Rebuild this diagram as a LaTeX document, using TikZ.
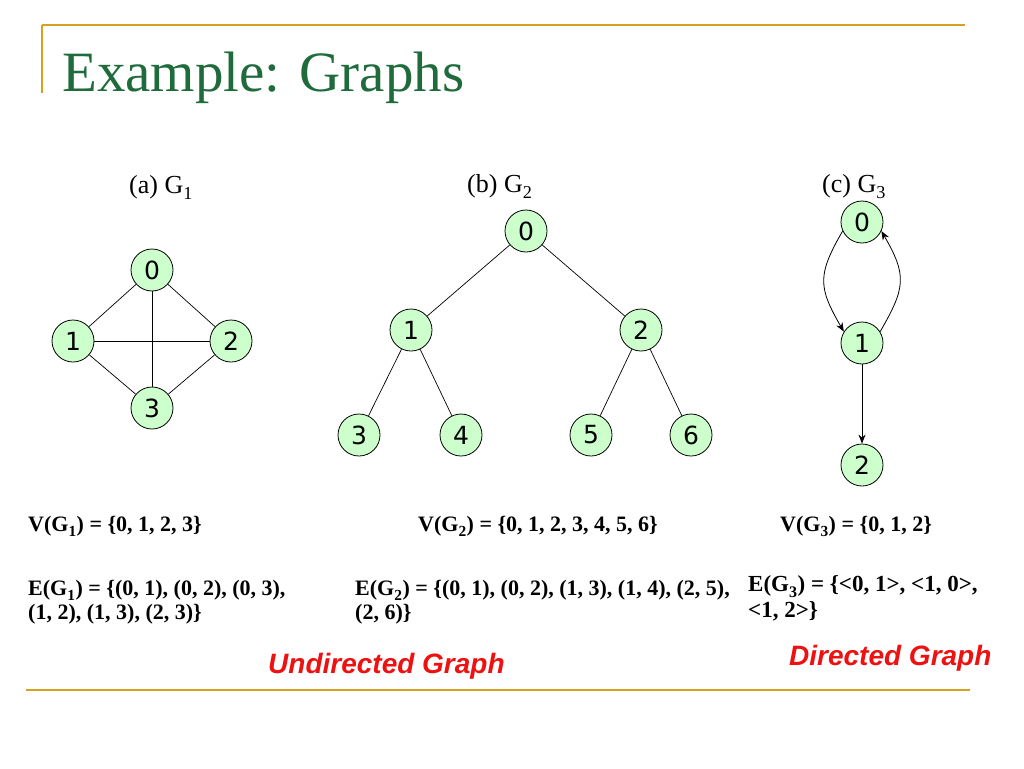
\documentclass[tikz,border=0pt]{standalone}
\usepackage{fontspec}
\setmainfont{Liberation Serif}
\setsansfont{Liberation Sans}
\newfontfamily\nodefont{DejaVu Sans}
\usetikzlibrary{arrows.meta}
\definecolor{gold}{HTML}{D4A21E}
\definecolor{titlegreen}{HTML}{1F6B3C}
\definecolor{nodegreen}{HTML}{CCFFCC}
\definecolor{redlabel}{HTML}{EE1111}
\newcommand{\lsub}[1]{\raisebox{-0.1em}{\textsubscript{#1}}}
\tikzset{
  vtx/.style={circle,draw=black,fill=nodegreen,minimum size=42pt,inner sep=0pt,line width=0.8pt,font=\nodefont\fontsize{25}{25}\selectfont},
  gedge/.style={draw=black,line width=0.7pt},
  garr/.style={draw=black,line width=0.8pt,-{Stealth[length=9pt,width=7pt]}},
  captext/.style={anchor=base west,inner sep=0pt,font=\fontsize{26}{26}\selectfont},
  settext/.style={anchor=base west,inner sep=0pt,font=\bfseries\fontsize{22}{23}\selectfont},
  kindtext/.style={anchor=base west,inner sep=0pt,text=redlabel,font=\sffamily\bfseries\itshape\fontsize{28}{28}\selectfont},
  goldrule/.style={draw=gold,line width=2pt}
}
\begin{document}
\begin{tikzpicture}[x=1pt,y=-1pt]
\useasboundingbox (0,0) rectangle (1024,768);
% rules
\coordinate (tl) at (42,25); \coordinate (tr) at (965,25);
\coordinate (vb) at (42,93);
\coordinate (bl) at (26,690); \coordinate (br) at (970,690);
\draw[goldrule] (tl) -- (tr);
\draw[draw=gold,line width=1.5pt] (tl) -- (vb);
\draw[goldrule] (bl) -- (br);
% title
\node[anchor=base west,inner sep=0pt,text=titlegreen,font=\fontsize{57}{57}\selectfont] (title) at (62,91) {Example: Graphs};
% captions
\node[captext] (capa) at (129,193) {(a) G\lsub{1}};
\node[captext] (capb) at (467,192) {(b) G\lsub{2}};
\node[captext] (capc) at (822,192) {(c) G\lsub{3}};
% G1
\node[vtx] (a0) at (152,270) {0};
\node[vtx] (a1) at (73,341) {1};
\node[vtx] (a2) at (231,341) {2};
\node[vtx] (a3) at (152,408) {3};
\draw[gedge] (a0) -- (a1);
\draw[gedge] (a0) -- (a2);
\draw[gedge] (a0) -- (a3);
\draw[gedge] (a1) -- (a2);
\draw[gedge] (a1) -- (a3);
\draw[gedge] (a2) -- (a3);
% G2
\node[vtx] (b0) at (526,231) {0};
\node[vtx] (b1) at (411,330) {1};
\node[vtx] (b2) at (641,330) {2};
\node[vtx] (b3) at (359,435) {3};
\node[vtx] (b4) at (461,435) {4};
\node[vtx] (b5) at (591,435) {5};
\node[vtx] (b6) at (691,435) {6};
\draw[gedge] (b0) -- (b1);
\draw[gedge] (b0) -- (b2);
\draw[gedge] (b1) -- (b3);
\draw[gedge] (b1) -- (b4);
\draw[gedge] (b2) -- (b5);
\draw[gedge] (b2) -- (b6);
% G3
\node[vtx] (c0) at (862,222) {0};
\node[vtx] (c1) at (862,343) {1};
\node[vtx] (c2) at (862,465) {2};
\draw[garr] (c0.205) to[out=240,in=120,looseness=1.3] (c1.148);
\draw[garr] (c1.32) to[out=60,in=-60,looseness=1.3] (c0.-25);
\draw[garr] (c1) -- (c2);
% sets
\node[settext] (v1) at (28,531) {V(G\lsub{1}) = \{0, 1, 2, 3\}};
\node[settext] (v2) at (418,531) {V(G\lsub{2}) = \{0, 1, 2, 3, 4, 5, 6\}};
\node[settext] (v3) at (780,531) {V(G\lsub{3}) = \{0, 1, 2\}};
\node[settext] (e1a) at (28,595) {E(G\lsub{1}) = \{(0, 1), (0, 2), (0, 3),};
\node[settext] (e1b) at (28,619) {(1, 2), (1, 3), (2, 3)\}};
\node[settext] (e2a) at (355,595) {E(G\lsub{2}) = \{(0, 1), (0, 2), (1, 3), (1, 4), (2, 5),};
\node[settext] (e2b) at (355,619) {(2, 6)\}};
\node[settext,font=\bfseries\fontsize{23}{25}\selectfont] (e3a) at (748,591) {E(G\lsub{3}) = \{<0, 1>, <1, 0>,};
\node[settext,font=\bfseries\fontsize{23}{25}\selectfont] (e3b) at (748,617) {<1, 2>\}};
% kinds
\node[kindtext] (und) at (268,673) {Undirected Graph};
\node[kindtext] (dir) at (789,665) {Directed Graph};
\end{tikzpicture}
\end{document}
